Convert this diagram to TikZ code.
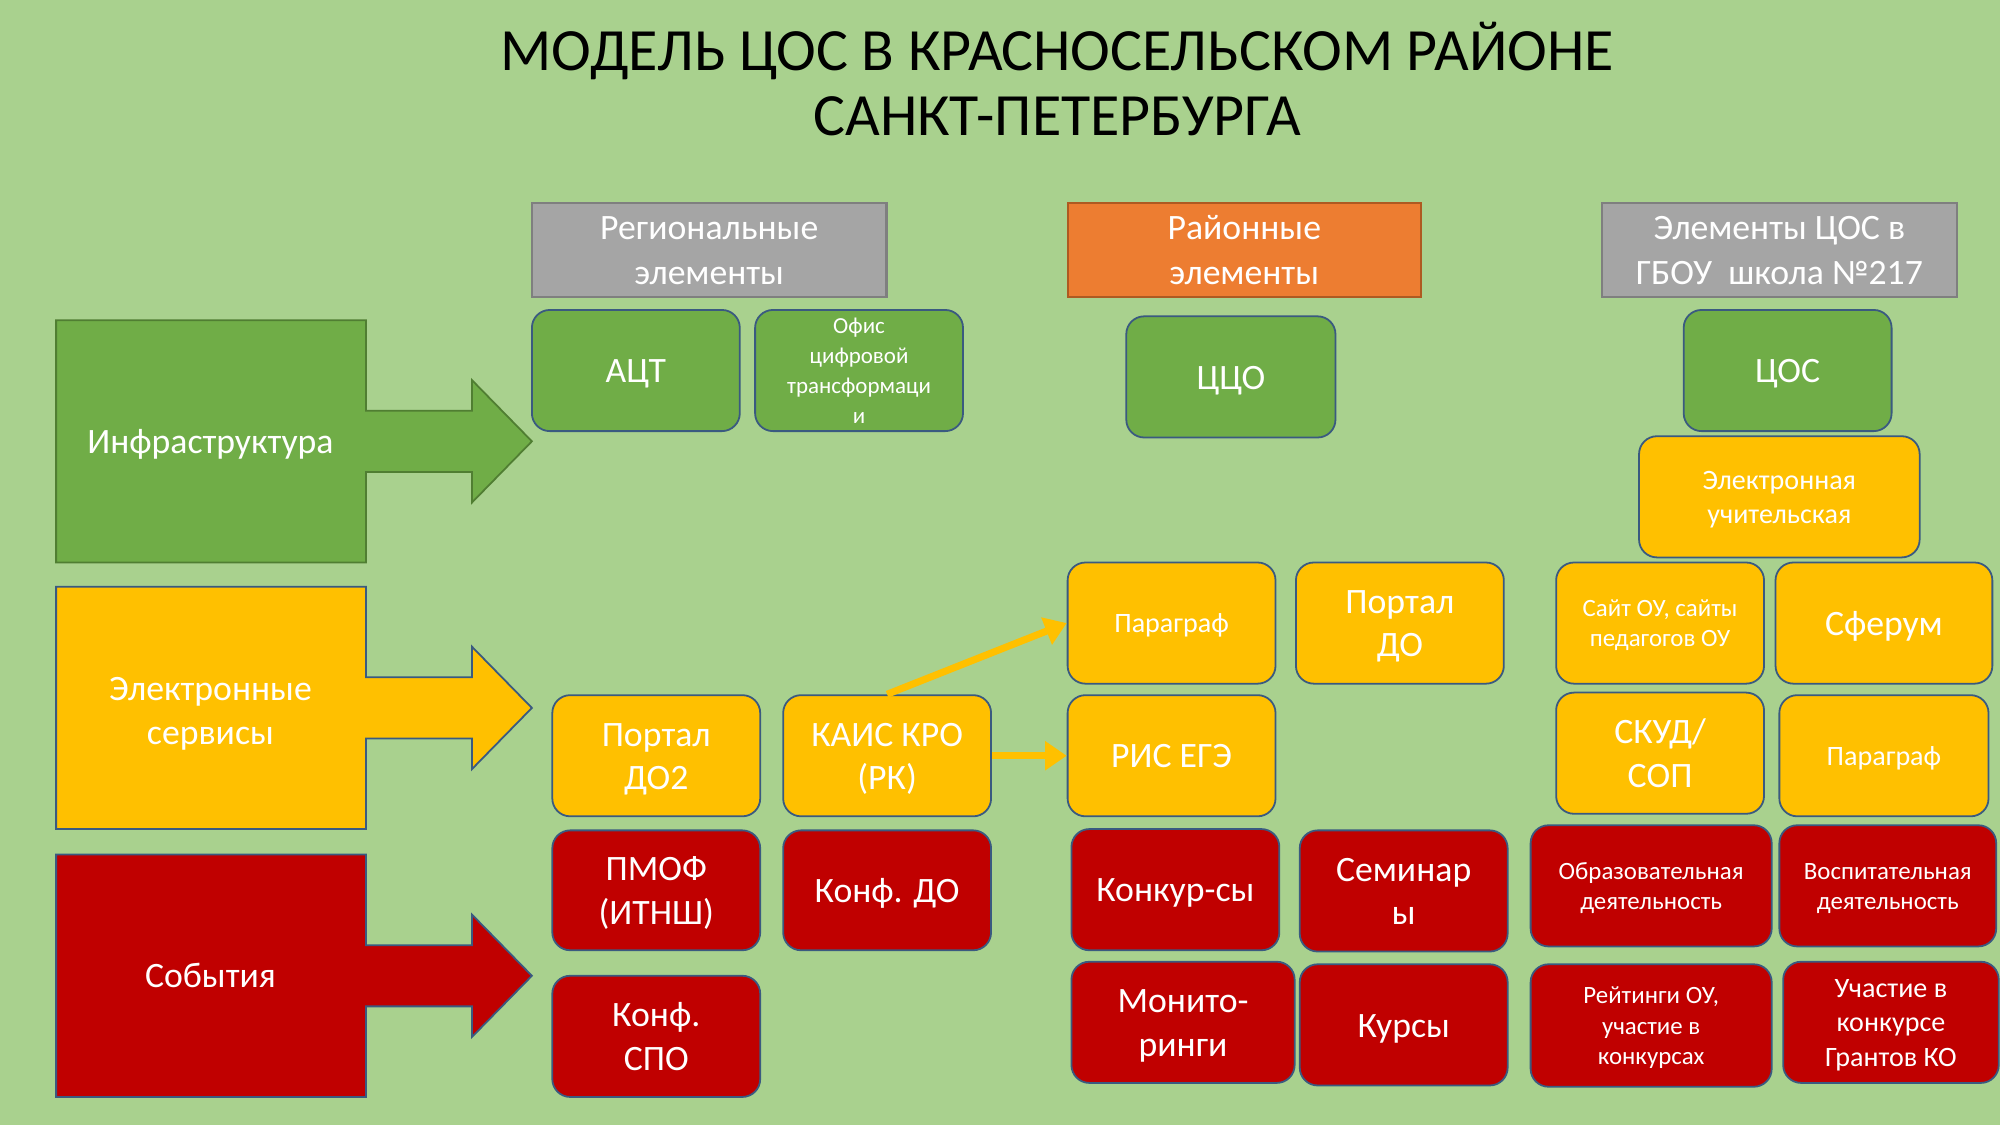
\documentclass[tikz,border=0pt]{standalone}
\usepackage{fontspec}
\setmainfont{Carlito}
\usetikzlibrary{arrows.meta}
\definecolor{bg}{HTML}{A9D18E}
\definecolor{cgreen}{HTML}{70AD47}
\definecolor{cyellow}{HTML}{FFC000}
\definecolor{cred}{HTML}{C00000}
\definecolor{corange}{HTML}{ED7D31}
\definecolor{cgray}{HTML}{A5A5A5}
\definecolor{bordc}{HTML}{3A5A80}
\definecolor{gborder}{HTML}{507E32}
\definecolor{grayborder}{HTML}{7F7F7F}
\definecolor{oborder}{HTML}{AE5A21}
\newcommand\tA{\rule{0pt}{0.952em}}
\newcommand\tZ{\rule[-0.269em]{0pt}{0.269em}}
\tikzset{
  rbox/.style={draw=bordc, line width=1.4pt, rounded corners=14pt, text=white,
    align=center, inner sep=0pt, font=\fontsize{28}{34}\selectfont},
  hbox/.style={line width=1.6pt, text=white, align=center, inner sep=0pt,
    font=\fontsize{28}{35.5}\selectfont},
  bigarrow/.style={line width=1.4pt},
  biglabel/.style={text=white, align=center, inner sep=0pt, font=\fontsize{28}{35}\selectfont},
  yarrow/.style={draw=cyellow, line width=5.5pt, -{Triangle[width=22pt,length=17pt]}},
  small/.style={font=\fontsize{18}{23.5}\selectfont},
  mid/.style={font=\fontsize{19.5}{23.8}\selectfont},
  midl/.style={font=\fontsize{22}{27}\selectfont}
}
\newcommand\mybox[8][]{\node[rbox, fill=#7, minimum width={#5-#3}, minimum height={#6-#4}, #1] (#2) at ({(#3+#5)/2},{(#4+#6)/2}) {\tA#8\tZ};}
\newcommand\bigarr[3]{\filldraw[bigarrow, fill=#1, draw=#2] (44,#3-95) -- (287,#3-95) -- (287,#3-24) -- (370,#3-24) -- (370,#3-48) -- (417,#3) -- (370,#3+48) -- (370,#3+24) -- (287,#3+24) -- (287,#3+95) -- (44,#3+95) -- cycle;}
\begin{document}
\begin{tikzpicture}[x=1pt,y=-1pt]
\fill[bg] (0,0) rectangle (1568,882);
\useasboundingbox (0,0) rectangle (1568,882);

% title
\node[align=center, inner sep=0pt, font=\fontsize{47}{51}\selectfont] (title) at (829,65)
  {\tA МОДЕЛЬ ЦОС В КРАСНОСЕЛЬСКОМ РАЙОНЕ\\САНКТ-ПЕТЕРБУРГА\tZ};

% headers
\node[hbox, fill=cgray, draw=grayborder, minimum width=278, minimum height=74] (hreg) at (556,196) {\tA Региональные\\элементы\tZ};
\node[hbox, fill=corange, draw=oborder, minimum width=277, minimum height=74] (hdis) at (975.5,196) {\tA Районные\\элементы\tZ};
\node[hbox, fill=cgray, draw=grayborder, minimum width=278, minimum height=74] (hsch) at (1395,196) {\tA Элементы ЦОС в\\ГБОУ\ \ школа №217\tZ};

% big arrows
\bigarr{cgreen}{gborder}{346}
\bigarr{cyellow}{bordc}{555}
\bigarr{cred}{bordc}{765}
\node[biglabel] (linfra) at (165,346) {\tA Инфраструктура\tZ};
\node[biglabel] (lserv) at (165,557) {\tA Электронные\\сервисы\tZ};
\node[biglabel] (lsob) at (165,765) {\tA События\tZ};

% regional
\mybox{act}{417}{243}{580}{338}{cgreen}{АЦТ}
\mybox[small]{ofis}{592}{243}{755}{338}{cgreen}{Офис\\цифровой\\трансформаци\\и}
\mybox{pdo2}{433}{545}{596}{640}{cyellow}{Портал\\ДО2}
\mybox{kais}{614}{545}{777}{640}{cyellow}{КАИС КРО\\(РК)}
\mybox{pmof}{433}{651}{596}{745}{cred}{ПМОФ\\(ИТНШ)}
\mybox{kdo}{614}{651}{777}{745}{cred}{Конф. ДО}
\mybox{kspo}{433}{765}{596}{860}{cred}{Конф.\\СПО}

% district
\mybox{cco}{883}{248}{1047}{343}{cgreen}{ЦЦО}
\mybox[midl]{par1}{837}{441}{1000}{536}{cyellow}{Параграф}
\mybox{pdo}{1016}{441}{1179}{536}{cyellow}{Портал\\ДО}
\mybox{ris}{837}{545}{1000}{640}{cyellow}{РИС ЕГЭ}
\mybox{konk}{840}{650}{1003}{745}{cred}{Конкур-сы}
\mybox{sem}{1019}{651}{1182}{746}{cred}{Семинар\\ы}
\mybox{mon}{840}{754}{1015}{849}{cred}{Монито-\\ринги}
\mybox{kurs}{1019}{756}{1182}{851}{cred}{Курсы}

% school
\mybox{cos}{1320}{243}{1483}{338}{cgreen}{ЦОС}
\mybox[midl]{eu}{1285}{342}{1505}{437}{cyellow}{Электронная\\учительская}
\mybox[mid]{sait}{1220}{441}{1383}{536}{cyellow}{Сайт ОУ, сайты\\педагогов ОУ}
\mybox{sfer}{1392}{441}{1562}{536}{cyellow}{Сферум}
\mybox{skud}{1220}{543}{1383}{638}{cyellow}{СКУД/\\СОП}
\mybox[midl]{par2}{1395}{545}{1559}{640}{cyellow}{Параграф}
\mybox[mid]{obr}{1200}{647}{1389}{742}{cred}{Образовательная\\деятельность}
\mybox[mid]{vos}{1395}{647}{1565}{742}{cred}{Воспитательная\\деятельность}
\mybox[mid]{reit}{1200}{756}{1389}{852}{cred}{Рейтинги ОУ,\\участие в\\конкурсах}
\mybox[midl]{uch}{1398}{754}{1567}{849}{cred}{Участие в\\конкурсе\\Грантов КО}

% connectors
\draw[yarrow] (kais.north) -- (par1.west);
\draw[yarrow] (kais.east) -- (ris.west);
\end{tikzpicture}
\end{document}
